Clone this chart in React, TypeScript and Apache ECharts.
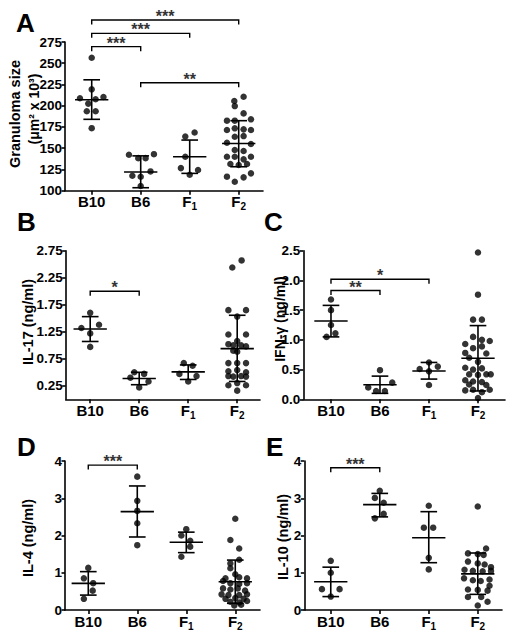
import React, { useEffect, useRef } from "react";
import * as echarts from "echarts";

const FONT = "'Liberation Sans', Arial, Helvetica, sans-serif";
const CATS = ["B10", "B6", "F1", "F2"];
const CAT_TICKS = [0, 1, 2, 3];

// ---------- Panel A: granuloma size (points: [jitter, value]) ----------
const granB10 = [[0, 256.5], [0, 219.3], [-0.24, 208.8], [0.24, 210.3], [0.08, 207.6], [-0.07, 202.5], [-0.1, 193.5], [0.08, 193.5], [0, 173.6]];
const granB6 = [[-0.24, 142.3], [-0.05, 138.3], [0.1, 138.3], [0.27, 143.0], [-0.17, 117.6], [0, 116.4], [0.2, 122.7], [0, 105.5]];
const granF1 = [[-0.09, 163.8], [0.1, 168.5], [-0.09, 139.9], [-0.18, 126.6], [0.17, 124.3], [0, 118.8]];
const granF2 = [[-0.09, 205.5], [0.1, 210.6], [-0.08, 199.6], [0.1, 191], [-0.24, 182.4], [-0.08, 182.4], [0.25, 184], [-0.24, 171.4], [-0.08, 173.4], [0.1, 172.2], [0.25, 171.4], [-0.08, 163.5], [0.1, 164.3], [-0.24, 156.5], [0.25, 154.9], [-0.08, 147.9], [0.1, 146.7], [-0.24, 140], [-0.08, 140], [0.1, 136.9], [0.25, 140], [-0.17, 131.4], [0, 130.2], [0.17, 131.4], [-0.24, 116.5], [0.25, 120.4], [-0.08, 110.6], [0.1, 115.7]];
// [mean, lower SD, upper SD] per category
const granStats = [[207, 184, 230.5], [122, 103.5, 141], [140, 120.4, 159.6], [155.5, 128.2, 182.4]];
// [from, to, level, label]
const granBrackets = [[0, 3, 300.9, "***"], [0, 2, 285.2, "***"], [0, 1, 269.5, "***"], [1, 3, 227.1, "**"]];
const granTicks = [100, 125, 150, 175, 200, 225, 250, 275];

// ---------- Panel B: IL-17 ----------
const il17B10 = [[0, 1.6], [-0.18, 1.32], [0.18, 1.38], [0, 1.22], [0, 0.97]];
const il17B6 = [[-0.1, 0.5], [0.1, 0.47], [-0.18, 0.4], [0.19, 0.33], [0, 0.22]];
const il17F1 = [[-0.09, 0.67], [0.09, 0.62], [-0.18, 0.47], [0.17, 0.43], [0, 0.33]];
const il17F2 = [[-0.1, 2.44], [0.09, 2.57], [-0.18, 1.65], [0.18, 1.65], [0, 1.53], [-0.18, 1.2], [0.18, 1.2], [0, 1.08], [-0.18, 1.02], [-0.08, 1.0], [0.08, 1.0], [0.18, 0.98], [-0.08, 0.9], [0, 0.88], [-0.18, 0.67], [0, 0.67], [0.18, 0.67], [-0.18, 0.52], [0, 0.54], [0.18, 0.5], [-0.18, 0.43], [-0.08, 0.42], [0.08, 0.43], [0.18, 0.42], [-0.18, 0.26], [0.18, 0.26], [0, 0.3], [0, 0.16]];
const il17Stats = [[1.3, 1.07, 1.53], [0.385, 0.27, 0.5], [0.507, 0.367, 0.636], [0.937, 0.33, 1.555]];
const il17Brackets = [[0, 1, 2.0, "*"]];
const il17Ticks = [0.25, 0.75, 1.25, 1.75, 2.25, 2.75];

// ---------- Panel C: IFN-gamma ----------
const ifnB10 = [[0, 1.68], [0, 1.5], [0, 1.25], [-0.09, 1.05], [0.09, 1.11]];
const ifnB6 = [[0, 0.49], [-0.24, 0.2], [0.25, 0.28], [-0.08, 0.14], [0.1, 0.14]];
const ifnF1 = [[-0.19, 0.51], [0, 0.62], [0.18, 0.55], [0, 0.47], [0, 0.24]];
const ifnF2 = [[0, 2.47], [0, 1.76], [-0.1, 1.34], [0.08, 1.34], [-0.1, 1.05], [-0.26, 0.93], [0.08, 1.0], [0.24, 0.98], [-0.1, 0.86], [0.08, 0.89], [-0.26, 0.78], [0.17, 0.77], [-0.18, 0.7], [0, 0.63], [-0.26, 0.53], [-0.1, 0.5], [0.08, 0.52], [-0.18, 0.42], [0, 0.41], [0.17, 0.42], [0.26, 0.42], [-0.26, 0.32], [-0.1, 0.3], [0.08, 0.29], [-0.18, 0.25], [0.17, 0.24], [-0.26, 0.15], [-0.1, 0.16], [0.08, 0.12], [0.24, 0.16], [0, 0.02]];
const ifnStats = [[1.317, 1.05, 1.58], [0.246, 0.1, 0.39], [0.476, 0.34, 0.62], [0.69, 0.14, 1.24]];
const ifnBrackets = [[0, 2, 2.02, "*"], [0, 1, 1.83, "**"]];
const ifnTicks = [0, 0.5, 1.0, 1.5, 2.0, 2.5];

// ---------- Panel D: IL-4 ----------
const il4B10 = [[0, 1.13], [-0.09, 0.85], [0.1, 0.72], [0.09, 0.52], [-0.09, 0.3]];
const il4B6 = [[0, 3.58], [0, 2.93], [0, 2.66], [0, 2.33], [0, 1.74]];
const il4F1 = [[0, 2.17], [-0.1, 2.0], [0.08, 1.86], [0.08, 1.7], [-0.1, 1.43]];
const il4F2 = [[0, 2.45], [-0.1, 1.88], [0.08, 1.65], [0.08, 1.35], [-0.1, 1.25], [-0.1, 1.12], [0, 0.96], [0.08, 0.88], [-0.2, 0.85], [0.24, 0.85], [-0.25, 0.78], [-0.1, 0.72], [0.08, 0.7], [0.24, 0.72], [-0.25, 0.58], [-0.1, 0.55], [0.05, 0.58], [0.2, 0.52], [-0.28, 0.42], [-0.14, 0.4], [0.08, 0.4], [0.24, 0.42], [-0.2, 0.3], [0, 0.32], [0.17, 0.3], [-0.1, 0.22], [0.08, 0.2], [0.24, 0.24], [-0.02, 0.12], [0.12, 0.14]];
const il4Stats = [[0.716, 0.4, 1.03], [2.64, 1.96, 3.33], [1.82, 1.54, 2.09], [0.76, 0.18, 1.34]];
const il4Brackets = [[0, 1, 3.89, "***"]];
const il4Ticks = [0, 1, 2, 3, 4];

// ---------- Panel E: IL-10 ----------
const il10B10 = [[0, 1.32], [0, 1.0], [-0.18, 0.56], [0.18, 0.56], [0, 0.36]];
const il10B6 = [[0, 3.2], [-0.1, 3.01], [0.08, 2.88], [0.08, 2.58], [-0.1, 2.46]];
const il10F1 = [[0, 2.8], [-0.1, 2.21], [0.09, 2.21], [0, 1.4], [0, 1.09]];
const il10F2 = [[0, 2.78], [0.17, 1.65], [-0.2, 1.52], [0, 1.5], [0.12, 1.48], [-0.2, 1.3], [0, 1.25], [0.14, 1.22], [0.27, 1.15], [-0.27, 1.08], [-0.1, 1.05], [0.1, 1.04], [0.27, 1.05], [-0.28, 0.85], [-0.1, 0.8], [0.06, 0.78], [0.24, 0.82], [-0.2, 0.55], [0, 0.54], [0.2, 0.52], [0.24, 0.65], [-0.2, 0.35], [0.07, 0.35], [0.2, 0.22], [0, 0.12]];
const il10Stats = [[0.76, 0.36, 1.15], [2.83, 2.5, 3.13], [1.94, 1.27, 2.64], [0.97, 0.42, 1.53]];
const il10Brackets = [[0, 1, 3.82, "***"]];
const il10Ticks = [0, 1, 2, 3, 4];

type Panel = {
  letter: string;
  title: string[];
  titleSize: number[];
  groups: number[][][];
  stats: number[][];
  brackets: (number | string)[][];
  yTicks: number[];
  yMin: number;
  yMax: number;
  yFmt: (v: number) => string;
  grid: { left: number; top: number; width: number; height: number };
  xMin: number;
  letterPos: [number, number];
  titlePos: [number, number][];
};

const PX_PER_CAT = 49;

const panels: Panel[] = [
  {
    letter: "A", title: ["Granuloma size", "(μm² x 10³)"], titleSize: [14.5, 14],
    groups: [granB10, granB6, granF1, granF2], stats: granStats, brackets: granBrackets,
    yTicks: granTicks, yMin: 100, yMax: 275, yFmt: (v) => String(v),
    grid: { left: 65, top: 42, width: 198, height: 148.7 }, xMin: -0.545,
    letterPos: [16, 23], titlePos: [[15, 114], [33.5, 109]],
  },
  {
    letter: "B", title: ["IL-17 (ng/ml)"], titleSize: [14.5],
    groups: [il17B10, il17B6, il17F1, il17F2], stats: il17Stats, brackets: il17Brackets,
    yTicks: il17Ticks, yMin: 0, yMax: 2.75, yFmt: (v) => v.toFixed(2),
    grid: { left: 65.7, top: 250.7, width: 194.3, height: 148.6 }, xMin: -0.5,
    letterPos: [17, 222], titlePos: [[28, 322]],
  },
  {
    letter: "C", title: ["IFN-γ (ng/ml)"], titleSize: [14],
    groups: [ifnB10, ifnB6, ifnF1, ifnF2], stats: ifnStats, brackets: ifnBrackets,
    yTicks: ifnTicks, yMin: 0, yMax: 2.5, yFmt: (v) => v.toFixed(1),
    grid: { left: 303.3, top: 250.7, width: 201.7, height: 148.6 }, xMin: -0.565,
    letterPos: [264, 222], titlePos: [[279.5, 319]],
  },
  {
    letter: "D", title: ["IL-4 (ng/ml)"], titleSize: [14.5],
    groups: [il4B10, il4B6, il4F1, il4F2], stats: il4Stats, brackets: il4Brackets,
    yTicks: il4Ticks, yMin: 0, yMax: 4, yFmt: (v) => String(v),
    grid: { left: 65, top: 461, width: 195, height: 149 }, xMin: -0.475,
    letterPos: [17, 447], titlePos: [[28, 538]],
  },
  {
    letter: "E", title: ["IL-10 (ng/ml)"], titleSize: [14.5],
    groups: [il10B10, il10B6, il10F1, il10F2], stats: il10Stats, brackets: il10Brackets,
    yTicks: il10Ticks, yMin: 0, yMax: 4, yFmt: (v) => String(v),
    grid: { left: 304.3, top: 461, width: 197.7, height: 149 }, xMin: -0.54,
    letterPos: [266, 447], titlePos: [[283, 537]],
  },
];

function buildOption() {
  const grid: any[] = [];
  const xAxis: any[] = [];
  const yAxis: any[] = [];
  const series: any[] = [];
  const graphic: any[] = [];

  panels.forEach((p, i) => {
    grid.push({ ...p.grid, containLabel: false, outerBoundsMode: "none" });
    xAxis.push({
      type: "value", gridIndex: i, min: p.xMin, max: p.xMin + p.grid.width / PX_PER_CAT,
      splitLine: { show: false },
      axisLine: { show: true, onZero: false, lineStyle: { color: "#000", width: 1.6 } },
      axisTick: { show: true, customValues: CAT_TICKS, length: 4, lineStyle: { color: "#000", width: 1.6 } },
      axisLabel: {
        show: true, customValues: CAT_TICKS, margin: 1,
        formatter: (v: number) => {
          const c = CATS[Math.round(v)];
          return c[0] === "F" ? `{m|F}{s|${c.slice(1)}}` : `{m|${c}}`;
        },
        rich: {
          m: { fontSize: 15, fontWeight: "bold", fontFamily: FONT, color: "#000", lineHeight: 20 },
          s: { fontSize: 10, fontWeight: "bold", fontFamily: FONT, color: "#000", lineHeight: 10, padding: [10, 0, 0, 0] },
        },
      },
    });
    yAxis.push({
      type: "value", gridIndex: i, min: p.yMin, max: p.yMax,
      splitLine: { show: false },
      axisLine: { show: true, onZero: false, lineStyle: { color: "#000", width: 1.6 } },
      axisTick: { show: true, customValues: p.yTicks, length: 3.5, lineStyle: { color: "#000", width: 1.6 } },
      axisLabel: {
        show: true, customValues: p.yTicks, margin: 3, formatter: p.yFmt,
        fontSize: 13.5, fontWeight: "bold", fontFamily: FONT, color: "#000",
      },
    });

    // dots
    p.groups.forEach((g, ci) => {
      series.push({
        type: "scatter", xAxisIndex: i, yAxisIndex: i, symbol: "circle", symbolSize: 6.5,
        itemStyle: { color: "#000" }, z: 2, silent: true,
        data: g.map(([j, v]) => [ci + j, v]),
      });
    });

    // mean ± SD
    series.push({
      type: "custom", xAxisIndex: i, yAxisIndex: i, z: 3, silent: true, clip: false,
      data: p.stats.map((s, ci) => [ci, s[0], s[1], s[2]]),
      renderItem: (params: any, api: any) => {
        const x = api.value(0);
        const pm = api.coord([x, api.value(1)]);
        const pl = api.coord([x, api.value(2)]);
        const ph = api.coord([x, api.value(3)]);
        const unit = api.size([1, 0])[0];
        const mw = 0.34 * unit;
        const cw = 0.17 * unit;
        const st = { stroke: "#000", lineWidth: 1.6 };
        return {
          type: "group",
          children: [
            { type: "line", shape: { x1: pm[0] - mw, y1: pm[1], x2: pm[0] + mw, y2: pm[1] }, style: st },
            { type: "line", shape: { x1: ph[0], y1: ph[1], x2: pl[0], y2: pl[1] }, style: st },
            { type: "line", shape: { x1: ph[0] - cw, y1: ph[1], x2: ph[0] + cw, y2: ph[1] }, style: st },
            { type: "line", shape: { x1: pl[0] - cw, y1: pl[1], x2: pl[0] + cw, y2: pl[1] }, style: st },
          ],
        };
      },
    });

    // significance brackets
    const br = p.brackets;
    series.push({
      type: "custom", xAxisIndex: i, yAxisIndex: i, z: 4, silent: true, clip: false,
      data: br.map((b) => [b[0], b[1], b[2]]),
      renderItem: (params: any, api: any) => {
        const a = api.coord([api.value(0), api.value(2)]);
        const b = api.coord([api.value(1), api.value(2)]);
        const label = br[params.dataIndex][3] as string;
        const t = 4.5;
        return {
          type: "group",
          children: [
            {
              type: "polyline",
              shape: { points: [[a[0], a[1] + t], [a[0], a[1]], [b[0], b[1]], [b[0], b[1] + t]] },
              style: { stroke: "#000", lineWidth: 1.4, fill: null },
            },
            {
              type: "text", x: (a[0] + b[0]) / 2, y: a[1] + 4.5,
              style: {
                text: label, fill: "#333", fontSize: 16, fontWeight: "bold", fontFamily: FONT,
                textAlign: "center", textVerticalAlign: "bottom", verticalAlign: "bottom",
              },
            },
          ],
        };
      },
    });

    graphic.push({
      type: "text", x: p.letterPos[0], y: p.letterPos[1],
      style: {
        text: p.letter, fontSize: 26, fontWeight: "bold", fontFamily: FONT, fill: "#000",
        textAlign: "left", textVerticalAlign: "middle", verticalAlign: "middle",
      },
    });
    p.title.forEach((t, k) => {
      graphic.push({
        type: "text", x: p.titlePos[k][0], y: p.titlePos[k][1], rotation: Math.PI / 2,
        style: {
          text: t, fontSize: p.titleSize[k], fontWeight: "bold", fontFamily: FONT, fill: "#000",
          textAlign: "center", textVerticalAlign: "middle", verticalAlign: "middle",
        },
      });
    });
  });

  return { animation: false, backgroundColor: "#fff", grid, xAxis, yAxis, series, graphic };
}

export default function App() {
  const ref = useRef<HTMLDivElement>(null);
  useEffect(() => {
    if (!ref.current) return;
    const chart = echarts.init(ref.current, null, { renderer: "svg" });
    chart.setOption(buildOption() as any);
    return () => chart.dispose();
  }, []);
  return (
    <div
      ref={ref}
      style={{ position: "absolute", left: 0, top: 0, width: 512, height: 639, background: "#fff" }}
    />
  );
}
